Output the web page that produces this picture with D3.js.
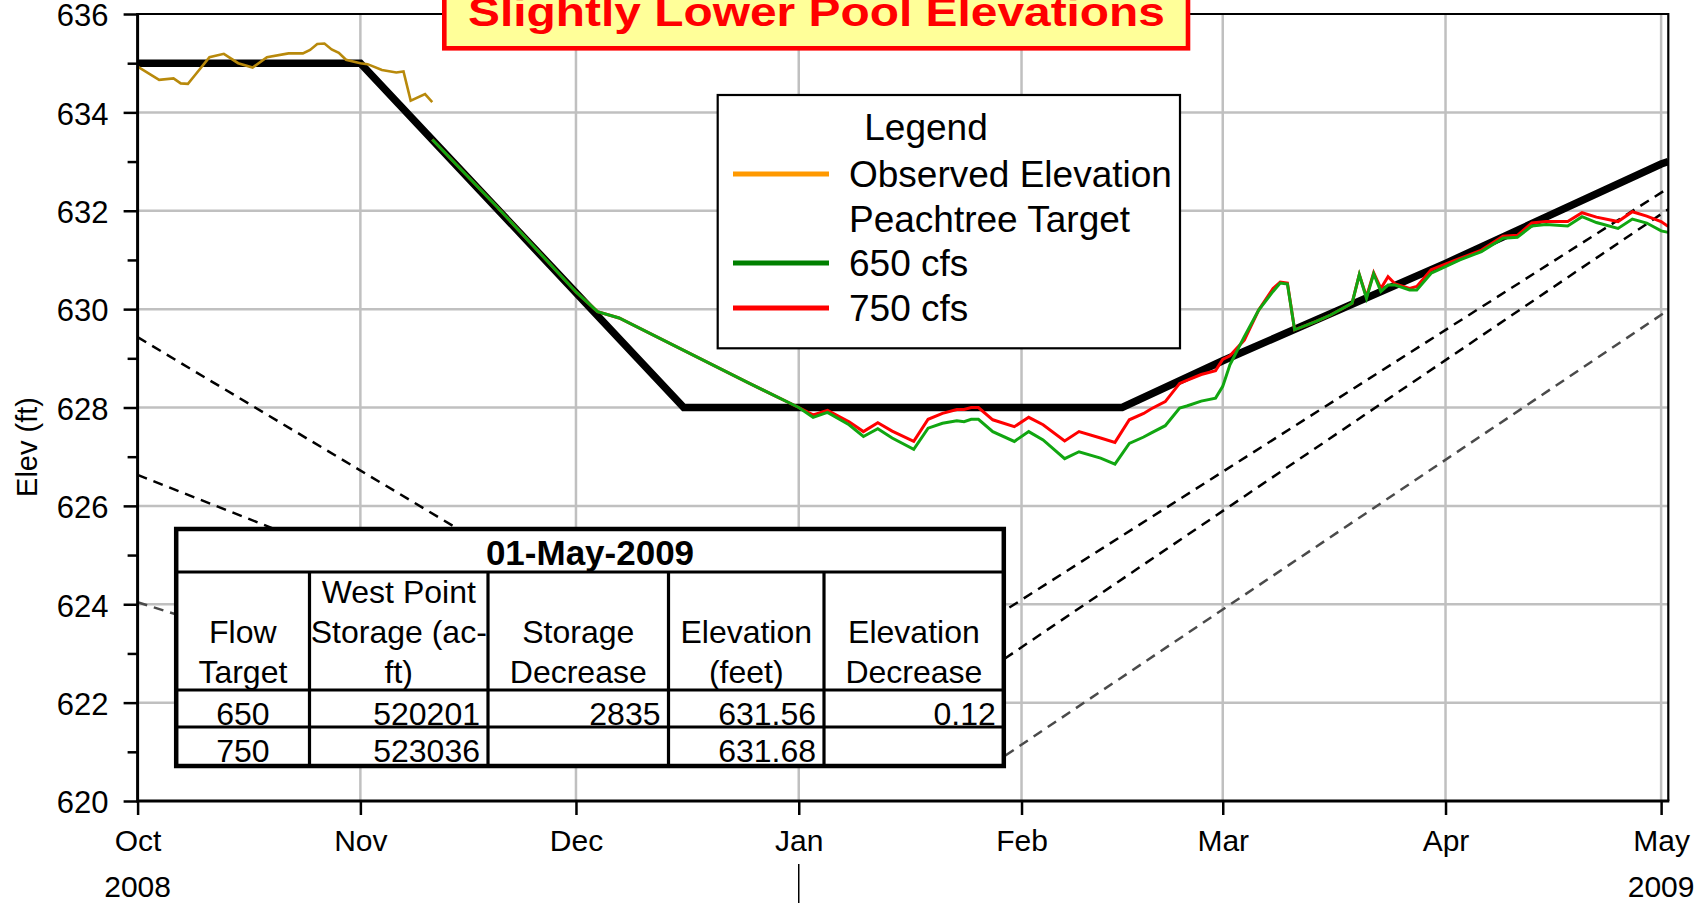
<!DOCTYPE html>
<html>
<head>
<meta charset="utf-8">
<script src="https://cdn.jsdelivr.net/npm/d3@7"></script>
<style>
  html, body { margin: 0; padding: 0; background: #fff; overflow: hidden; }
  svg { display: block; font-family: "Liberation Sans", Arial, Helvetica, sans-serif; }
</style>
</head>
<body>
<svg id="canvas" width="1699" height="903"></svg>
<script>
"use strict"

// ---- data ----
const yMajor = [620, 622, 624, 626, 628, 630, 632, 634, 636]
const yMinor = [621, 623, 625, 627, 629, 631, 633, 635]
const years = [["2008-10-01", "2008"], ["2009-05-01", "2009"]]

const target = [
  ["2008-10-01", 635], ["2008-11-01", 635], ["2008-12-16", 628], ["2009-02-15", 628],
  ["2009-03-01", 628.95], ["2009-04-01", 630.93], ["2009-05-01", 632.95], ["2009-05-02", 633.0]
]

const observed = [
  ["2008-10-01", 634.93], ["2008-10-04", 634.66], ["2008-10-06", 634.69], ["2008-10-07", 634.59],
  ["2008-10-08", 634.58], ["2008-10-09", 634.76], ["2008-10-11", 635.12], ["2008-10-13", 635.19],
  ["2008-10-15", 635.00], ["2008-10-17", 634.91], ["2008-10-19", 635.12], ["2008-10-22", 635.20],
  ["2008-10-24", 635.20], ["2008-10-25", 635.27], ["2008-10-26", 635.39], ["2008-10-27", 635.40],
  ["2008-10-28", 635.28], ["2008-10-29", 635.21], ["2008-10-30", 635.07], ["2008-11-01", 635.00],
  ["2008-11-02", 634.98], ["2008-11-04", 634.86], ["2008-11-06", 634.81], ["2008-11-07", 634.83],
  ["2008-11-08", 634.24], ["2008-11-10", 634.37], ["2008-11-11", 634.21]
]

const flow650 = [
  ["2008-11-11", 633.45], ["2008-11-20", 632.08], ["2008-12-01", 630.35], ["2008-12-04", 629.95],
  ["2008-12-07", 629.82], ["2008-12-25", 628.50], ["2009-01-01", 628.00], ["2009-01-03", 627.80],
  ["2009-01-05", 627.90], ["2009-01-08", 627.65], ["2009-01-10", 627.41], ["2009-01-12", 627.57],
  ["2009-01-14", 627.38], ["2009-01-17", 627.15], ["2009-01-19", 627.58], ["2009-01-21", 627.68],
  ["2009-01-23", 627.73], ["2009-01-24", 627.71], ["2009-01-25", 627.76], ["2009-01-26", 627.76],
  ["2009-01-28", 627.51], ["2009-01-31", 627.31], ["2009-02-02", 627.51], ["2009-02-04", 627.34],
  ["2009-02-07", 626.96], ["2009-02-09", 627.10], ["2009-02-12", 626.97], ["2009-02-14", 626.85],
  ["2009-02-16", 627.27], ["2009-02-18", 627.40], ["2009-02-19", 627.48], ["2009-02-21", 627.63],
  ["2009-02-23", 627.99], ["2009-02-24", 628.03], ["2009-02-26", 628.13], ["2009-02-28", 628.19],
  ["2009-03-01", 628.43], ["2009-03-02", 628.87], ["2009-03-04", 629.44], ["2009-03-06", 629.98],
  ["2009-03-08", 630.36], ["2009-03-09", 630.53], ["2009-03-10", 630.51], ["2009-03-11", 629.58],
  ["2009-03-14", 629.75], ["2009-03-16", 629.88], ["2009-03-19", 630.12], ["2009-03-20", 630.70],
  ["2009-03-21", 630.22], ["2009-03-22", 630.72], ["2009-03-23", 630.36], ["2009-03-24", 630.49],
  ["2009-03-25", 630.49], ["2009-03-27", 630.39], ["2009-03-28", 630.39], ["2009-03-30", 630.73],
  ["2009-03-31", 630.80], ["2009-04-03", 631.00], ["2009-04-06", 631.17], ["2009-04-09", 631.44],
  ["2009-04-11", 631.46], ["2009-04-13", 631.69], ["2009-04-15", 631.72], ["2009-04-18", 631.69],
  ["2009-04-20", 631.88], ["2009-04-22", 631.76], ["2009-04-25", 631.64], ["2009-04-27", 631.83],
  ["2009-04-29", 631.75], ["2009-05-01", 631.59], ["2009-05-02", 631.56]
]

const flow750 = [
  ["2008-11-11", 633.45], ["2008-11-20", 632.08], ["2008-12-01", 630.35], ["2008-12-04", 629.95],
  ["2008-12-07", 629.82], ["2008-12-25", 628.50], ["2009-01-01", 628.00], ["2009-01-03", 627.85],
  ["2009-01-05", 627.94], ["2009-01-08", 627.71], ["2009-01-10", 627.51], ["2009-01-12", 627.69],
  ["2009-01-14", 627.52], ["2009-01-17", 627.31], ["2009-01-19", 627.76], ["2009-01-21", 627.88],
  ["2009-01-23", 627.96], ["2009-01-24", 627.96], ["2009-01-25", 628.00], ["2009-01-26", 628.00],
  ["2009-01-28", 627.75], ["2009-01-31", 627.61], ["2009-02-02", 627.80], ["2009-02-04", 627.65],
  ["2009-02-07", 627.32], ["2009-02-09", 627.51], ["2009-02-12", 627.38], ["2009-02-14", 627.29],
  ["2009-02-16", 627.75], ["2009-02-18", 627.88], ["2009-02-19", 627.97], ["2009-02-21", 628.12],
  ["2009-02-23", 628.49], ["2009-02-24", 628.55], ["2009-02-26", 628.67], ["2009-02-28", 628.75],
  ["2009-03-01", 628.98], ["2009-03-02", 629.05], ["2009-03-04", 629.37], ["2009-03-06", 629.98],
  ["2009-03-08", 630.42], ["2009-03-09", 630.55], ["2009-03-10", 630.53], ["2009-03-11", 629.58],
  ["2009-03-14", 629.75], ["2009-03-16", 629.88], ["2009-03-19", 630.12], ["2009-03-20", 630.70],
  ["2009-03-21", 630.25], ["2009-03-22", 630.74], ["2009-03-23", 630.42], ["2009-03-24", 630.66],
  ["2009-03-25", 630.51], ["2009-03-27", 630.42], ["2009-03-28", 630.46], ["2009-03-30", 630.80],
  ["2009-03-31", 630.86], ["2009-04-03", 631.03], ["2009-04-06", 631.20], ["2009-04-09", 631.48],
  ["2009-04-11", 631.50], ["2009-04-13", 631.75], ["2009-04-15", 631.78], ["2009-04-18", 631.78],
  ["2009-04-20", 631.96], ["2009-04-22", 631.87], ["2009-04-25", 631.78], ["2009-04-27", 631.98],
  ["2009-04-29", 631.89], ["2009-05-01", 631.78], ["2009-05-02", 631.68]
]

// dashed guide curves (the low point of each is under the table)
const guideUpper = [["2008-10-01", 629.43], ["2009-01-02", 621.30], ["2009-05-02", 632.46]]
const guideMiddle = [["2008-10-01", 626.63], ["2009-01-09", 620.85], ["2009-05-02", 632.03]]
const guideLower = [["2008-10-01", 624.04], ["2008-10-15", 623.40], ["2009-01-29", 620.85], ["2009-05-02", 629.98]]

const legendItems = [
  { label: "Observed Elevation", color: "#ff9900" },
  { label: "Peachtree Target", color: null },
  { label: "650 cfs", color: "#008000" },
  { label: "750 cfs", color: "#ff0000" }
]

const tableDate = "01-May-2009"
const tableHead = [
  ["Flow", "Target"],
  ["West Point", "Storage (ac-", "ft)"],
  ["Storage", "Decrease"],
  ["Elevation", "(feet)"],
  ["Elevation", "Decrease"]
]
const tableRows = [
  ["650", "520201", "2835", "631.56", "0.12"],
  ["750", "523036", "", "631.68", ""]
]

const titleText = "Slightly Lower Pool Elevations"
const yLabel = "Elev (ft)"

// ---- layout ----
const $ = {
  width: 1699,
  height: 903,
  left: 137.6,
  right: 1668.3,
  top: 14,
  bottom: 801,
  font: "'Liberation Sans', Arial, Helvetica, sans-serif"
}

const parse = d3.timeParse("%Y-%m-%d")

const x = d3.scaleTime()
  .domain([parse("2008-10-01"), parse("2009-05-02")])
  .range([$.left, $.right])

const y = d3.scaleLinear()
  .domain([620, 636])
  .range([$.bottom, $.top])

const monthTicks = d3.timeMonth.range(parse("2008-10-01"), parse("2009-05-02"))

const svg = d3.select("#canvas")
  .attr("width", $.width)
  .attr("height", $.height)

svg.append("defs").append("clipPath")
  .attr("id", "plot-clip")
  .append("rect")
    .attr("x", $.left)
    .attr("y", $.top)
    .attr("width", $.right - $.left)
    .attr("height", $.bottom - $.top)

// grid
const grid = svg.append("g")
grid.selectAll("line.h")
  .data(yMajor.filter(v => v > 620 && v < 636))
  .enter().append("line")
    .attr("x1", $.left).attr("x2", $.right)
    .attr("y1", d => y(d)).attr("y2", d => y(d))
    .attr("stroke", "#c0c0c0").attr("stroke-width", 2.5)
grid.selectAll("line.v")
  .data(monthTicks.slice(1))
  .enter().append("line")
    .attr("x1", d => x(d)).attr("x2", d => x(d))
    .attr("y1", $.top).attr("y2", $.bottom)
    .attr("stroke", "#c0c0c0").attr("stroke-width", 2.5)

const line = d3.line()
  .x(d => x(parse(d[0])))
  .y(d => y(d[1]))

const plot = svg.append("g").attr("clip-path", "url(#plot-clip)")

// dashed guides
const guides = [
  { data: guideUpper, color: "#000" },
  { data: guideMiddle, color: "#000" },
  { data: guideLower, color: "#4a4a4a" }
]
plot.selectAll("path.guide")
  .data(guides)
  .enter().append("path")
    .attr("class", "guide")
    .attr("d", g => line(g.data))
    .attr("fill", "none")
    .attr("stroke", g => g.color)
    .attr("stroke-width", 2.5)
    .attr("stroke-dasharray", "10,7")

plot.append("path")
  .attr("d", line(target))
  .attr("fill", "none")
  .attr("stroke", "#000")
  .attr("stroke-width", 7.5)

plot.append("path")
  .attr("d", line(observed))
  .attr("fill", "none")
  .attr("stroke", "#b8890b")
  .attr("stroke-width", 2.6)

plot.append("path")
  .attr("d", line(flow750))
  .attr("fill", "none")
  .attr("stroke", "#ff0000")
  .attr("stroke-width", 3)

plot.append("path")
  .attr("d", line(flow650))
  .attr("fill", "none")
  .attr("stroke", "#11a611")
  .attr("stroke-width", 3)

// axes
const yAxis = d3.axisLeft(y)
  .tickValues(yMajor)
  .tickSize(14)
  .tickPadding(15)
  .tickFormat(d3.format("d"))

svg.append("g")
  .attr("transform", `translate(${$.left},0)`)
  .call(yAxis)
  .call(g => g.select(".domain").remove())
  .call(g => g.selectAll("line").attr("stroke", "#000").attr("stroke-width", 2.5))
  .call(g => g.selectAll("text").attr("font-size", 31).attr("font-family", $.font).attr("fill", "#000").attr("dy", "0.38em"))

svg.append("g")
  .attr("transform", `translate(${$.left},0)`)
  .call(d3.axisLeft(y).tickValues(yMinor).tickSize(10).tickFormat(""))
  .call(g => g.select(".domain").remove())
  .call(g => g.selectAll("line").attr("stroke", "#000").attr("stroke-width", 2.5))

const xAxis = d3.axisBottom(x)
  .tickValues(monthTicks)
  .tickSize(14)
  .tickFormat(d3.timeFormat("%b"))

svg.append("g")
  .attr("transform", `translate(0,${$.bottom})`)
  .call(xAxis)
  .call(g => g.select(".domain").remove())
  .call(g => g.selectAll("line").attr("stroke", "#000").attr("stroke-width", 2.5))
  .call(g => g.selectAll("text").attr("font-size", 30).attr("font-family", $.font).attr("fill", "#000").attr("y", 50).attr("dy", null))

svg.append("g")
  .selectAll("text")
  .data(years)
  .enter().append("text")
    .attr("x", d => x(parse(d[0])))
    .attr("y", 897)
    .attr("text-anchor", "middle")
    .attr("font-size", 30)
    .text(d => d[1])

svg.append("line")
  .attr("x1", x(parse("2009-01-01"))).attr("x2", x(parse("2009-01-01")))
  .attr("y1", 864).attr("y2", $.height)
  .attr("stroke", "#000").attr("stroke-width", 1.5)

// frame
svg.append("path")
  .attr("d", `M${$.left},${$.top}H${$.right}V${$.bottom}`)
  .attr("fill", "none").attr("stroke", "#000").attr("stroke-width", 2.2)
svg.append("path")
  .attr("d", `M${$.left},${$.top - 1}V${$.bottom}H${$.right + 1}`)
  .attr("fill", "none").attr("stroke", "#000").attr("stroke-width", 3)

svg.append("text")
  .attr("transform", "translate(36.5,447) rotate(-90)")
  .attr("text-anchor", "middle")
  .attr("font-size", 29)
  .text(yLabel)

// title banner
svg.append("rect")
  .attr("x", 444.3).attr("y", -10)
  .attr("width", 743.7).attr("height", 58.3)
  .attr("fill", "#ffff99")
  .attr("stroke", "#ff0000").attr("stroke-width", 4.6)
svg.append("text")
  .attr("x", 816.5).attr("y", 26)
  .attr("text-anchor", "middle")
  .attr("font-size", 41)
  .attr("font-weight", "bold")
  .attr("fill", "#ff0000")
  .attr("textLength", 697)
  .attr("lengthAdjust", "spacingAndGlyphs")
  .text(titleText)

// legend
const legend = svg.append("g")
legend.append("rect")
  .attr("x", 717.7).attr("y", 95)
  .attr("width", 462.3).attr("height", 253.3)
  .attr("fill", "#fff").attr("stroke", "#000").attr("stroke-width", 2.2)
legend.append("text")
  .attr("x", 926).attr("y", 140)
  .attr("text-anchor", "middle")
  .attr("font-size", 37)
  .text("Legend")

const rowY = [187, 232, 276, 321]
const item = legend.selectAll("g.item")
  .data(legendItems)
  .enter().append("g")
    .attr("transform", (d, i) => `translate(0,${rowY[i]})`)
item.filter(d => d.color)
  .append("line")
    .attr("x1", 733).attr("x2", 829)
    .attr("y1", -13).attr("y2", -13)
    .attr("stroke", d => d.color)
    .attr("stroke-width", 5)
item.append("text")
  .attr("x", 849)
  .attr("font-size", 37)
  .text(d => d.label)

// data table
const colX = [176.2, 309.5, 488, 668.5, 824, 1003.8]
const rowLines = [572, 690, 727]
const tTop = 529, tBottom = 766
const table = svg.append("g")

table.append("rect")
  .attr("x", colX[0]).attr("y", tTop)
  .attr("width", colX[5] - colX[0]).attr("height", tBottom - tTop)
  .attr("fill", "#fff")

table.append("text")
  .attr("x", (colX[0] + colX[5]) / 2).attr("y", 565)
  .attr("text-anchor", "middle")
  .attr("font-size", 35)
  .attr("font-weight", "bold")
  .text(tableDate)

const headBase = [603, 643, 683]
tableHead.forEach((lines, c) => {
  const cx = (colX[c] + colX[c + 1]) / 2
  const offset = headBase.length - lines.length
  lines.forEach((t, k) => {
    table.append("text")
      .attr("x", cx).attr("y", headBase[offset + k])
      .attr("text-anchor", "middle")
      .attr("font-size", 32)
      .text(t)
  })
})

const bodyBase = [725, 762]
tableRows.forEach((row, r) => {
  row.forEach((t, c) => {
    table.append("text")
      .attr("x", c === 0 ? (colX[0] + colX[1]) / 2 : colX[c + 1] - 8)
      .attr("y", bodyBase[r])
      .attr("text-anchor", c === 0 ? "middle" : "end")
      .attr("font-size", 32)
      .text(t)
  })
})

table.selectAll("line.row")
  .data(rowLines)
  .enter().append("line")
    .attr("x1", colX[0]).attr("x2", colX[5])
    .attr("y1", d => d).attr("y2", d => d)
    .attr("stroke", "#000").attr("stroke-width", 3.2)
table.selectAll("line.col")
  .data(colX.slice(1, 5))
  .enter().append("line")
    .attr("x1", d => d).attr("x2", d => d)
    .attr("y1", rowLines[0]).attr("y2", tBottom)
    .attr("stroke", "#000").attr("stroke-width", 3.2)
table.append("rect")
  .attr("x", colX[0]).attr("y", tTop)
  .attr("width", colX[5] - colX[0]).attr("height", tBottom - tTop)
  .attr("fill", "none")
  .attr("stroke", "#000").attr("stroke-width", 4.5)
</script>
</body>
</html>
